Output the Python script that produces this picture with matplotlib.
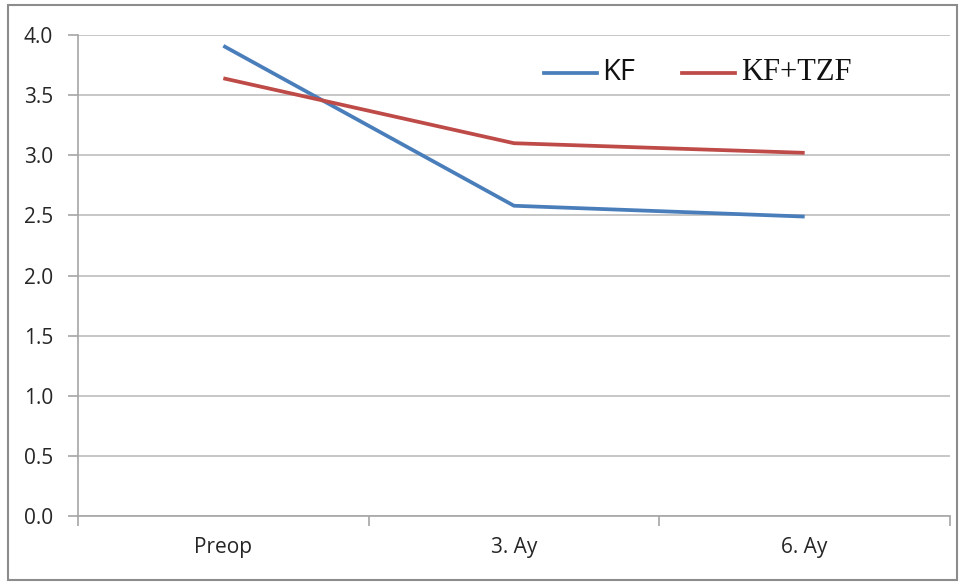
import matplotlib
matplotlib.use("Agg")
import matplotlib.pyplot as plt
from matplotlib.patches import Rectangle
from matplotlib.lines import Line2D

categories = ["Preop", "3. Ay", "6. Ay"]
kf = [3.91, 2.58, 2.49]
kf_tzf = [3.64, 3.10, 3.02]
yticks = [0.0, 0.5, 1.0, 1.5, 2.0, 2.5, 3.0, 3.5, 4.0]

blue = "#4A7EBB"
red = "#BE4B48"

fig = plt.figure(figsize=(9.61, 5.85), dpi=100)
ax = fig.add_axes([78/961, 1-516/585, (950-78)/961, (516-35)/585])

x = list(range(len(categories)))
ax.plot(x, kf, color=blue, lw=2.7, solid_capstyle="butt", zorder=3)
ax.plot(x, kf_tzf, color=red, lw=2.7, solid_capstyle="butt", zorder=3)

ax.set_xlim(-0.5, len(categories)-0.5)
ax.set_ylim(0, 4.0)
ax.set_yticks(yticks)
ax.set_yticklabels([f"{v:.1f}" for v in yticks])
ax.set_xticks(x)
ax.set_xticklabels(categories)
ax.set_xticks([i-0.5 for i in range(len(categories)+1)], minor=True)

ax.grid(axis="y", color="#BEBEBE", lw=1.2, zorder=0)
for s in ["top", "right"]:
    ax.spines[s].set_visible(False)
ax.spines["left"].set_color("#A6A6A6")
ax.spines["bottom"].set_color("#A6A6A6")
ax.spines["left"].set_linewidth(1.2)
ax.spines["bottom"].set_linewidth(1.2)

ax.tick_params(axis="y", which="major", length=7, color="#A6A6A6", width=1.2,
               labelsize=15, labelcolor="#262626", pad=11)
ax.tick_params(axis="x", which="major", length=0, labelsize=15, labelcolor="#262626", pad=15)
ax.tick_params(axis="x", which="minor", length=7, color="#A6A6A6", width=1.2)
for lab in ax.get_xticklabels() + ax.get_yticklabels():
    lab.set_fontfamily("Open Sans")

# legend drawn manually in axes fraction
ax.add_line(Line2D([0.534, 0.595], [0.921, 0.921], transform=ax.transAxes, color=blue, lw=2.7))
ax.text(0.601, 0.921, "KF", transform=ax.transAxes, fontsize=21, va="center", ha="left",
        family="Open Sans", color="#111111")
ax.add_line(Line2D([0.693, 0.754], [0.921, 0.921], transform=ax.transAxes, color=red, lw=2.7))
ax.text(0.760, 0.921, "KF+TZF", transform=ax.transAxes, fontsize=22, va="center", ha="left",
        family="Liberation Serif", color="#111111")

fig.patches.append(Rectangle((8/961, 1-580/585), (957-8)/961, (580-5)/585,
                             transform=fig.transFigure, fill=False, edgecolor="#8C8C8C", lw=1.5))

fig.savefig("out.png", dpi=100)
